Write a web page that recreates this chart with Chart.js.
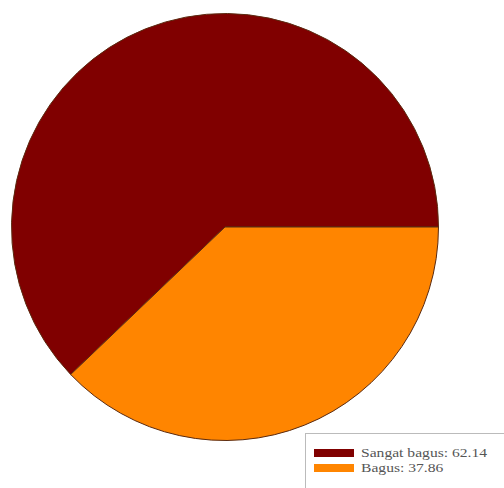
<!DOCTYPE html>
<html lang="en">
    <head>
        <meta charset="UTF-8" />
        <title>Pie Chart</title>
        <script src="https://cdn.jsdelivr.net/npm/chart.js@4"></script>
    </head>
    <body>
        <style>
            * {
                padding: 0;
                margin: 0;
                box-sizing: border-box;
            }

            body {
                width: 504px;
                height: 488px;
                background-color: white;
                position: relative;
                overflow: hidden;
            }

            .chart-container {
                position: absolute;
                left: 0;
                top: 0;
                width: 504px;
                height: 488px;
            }

            .legend {
                position: absolute;
                left: 305px;
                top: 433px;
                width: 210px;
                height: 70px;
                border: 1px solid #bbb;
                background: white;
                padding: 11px 0 0 8px;
                font-family: "Liberation Serif", serif;
                font-size: 13px;
                color: #555;
            }

            .legend div {
                display: flex;
                align-items: center;
                height: 15px;
            }

            .legend span.box {
                display: inline-block;
                width: 40px;
                height: 8px;
                margin-right: 7px;
            }

            .legend span.txt {
                display: inline-block;
                transform: scaleX(1.2);
                transform-origin: left center;
            }
        </style>

        <div class="chart-container">
            <canvas id="pieChart"></canvas>
        </div>
        <div class="legend" id="legend"></div>

        <script>
            const labels = ["Sangat bagus", "Bagus"];
            const values = [62.14, 37.86];
            const colors = ["#800000", "#FF8500"];

            // legend built from the same arrays
            const legend = document.getElementById("legend");
            labels.forEach(function (label, i) {
                const row = document.createElement("div");
                row.innerHTML =
                    '<span class="box" style="background:' +
                    colors[i] +
                    '"></span><span class="txt">' +
                    label +
                    ": " +
                    values[i] +
                    "</span>";
                legend.appendChild(row);
            });

            // second slice should start at 3 o'clock
            const total = values.reduce((a, b) => a + b, 0);
            const startAngle = 90 + (values[1] / total) * 360;

            const ctx = document.getElementById("pieChart").getContext("2d");
            new Chart(ctx, {
                type: "pie",
                data: {
                    labels: labels,
                    datasets: [
                        {
                            data: values,
                            backgroundColor: colors,
                            borderColor: "#5a2a10",
                            borderWidth: 1,
                        },
                    ],
                },
                options: {
                    responsive: true,
                    maintainAspectRatio: false,
                    animation: false,
                    rotation: startAngle,
                    layout: {
                        padding: { left: 11, right: 65, top: 13, bottom: 47 },
                    },
                    plugins: {
                        legend: { display: false },
                        tooltip: { enabled: false },
                    },
                },
            });
        </script>
    </body>
</html>
